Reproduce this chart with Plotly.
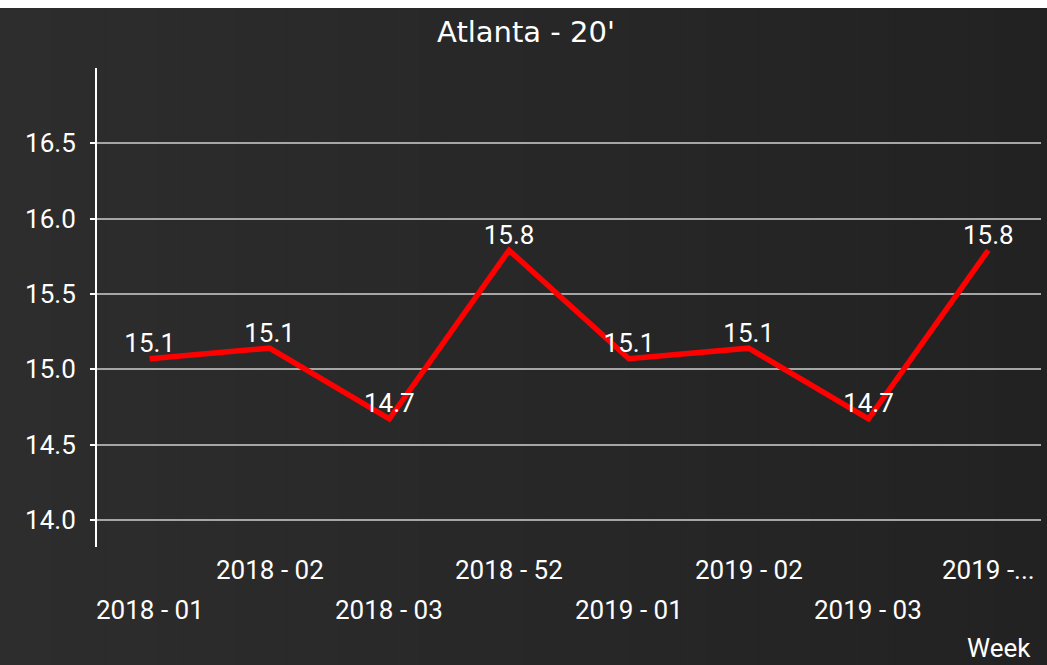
import numpy as np
import plotly.graph_objects as go

# 데이터
weeks = ["2018 - 01", "2018 - 02", "2018 - 03", "2018 - 52",
         "2019 - 01", "2019 - 02", "2019 - 03", "2019 -..."]
values = [15.07, 15.14, 14.67, 15.79, 15.07, 15.14, 14.67, 15.79]
value_labels = ["15.1", "15.1", "14.7", "15.8", "15.1", "15.1", "14.7", "15.8"]
y_ticks = [14.0, 14.5, 15.0, 15.5, 16.0, 16.5]

W, H = 1047, 665
L, R, T, B = 97, 1041, 68, 547   # plot area in pixels

def px_x(px):
    return (px - L) / (R - L)

def px_y(py):
    return (B - py) / (B - T)

fig = go.Figure()

fig.add_trace(go.Scatter(
    x=list(range(len(weeks))), y=values, mode='lines+text',
    text=value_labels, textposition='top center',
    textfont=dict(color='white', size=26, family='Roboto'),
    line=dict(color='#ff0000', width=5.5), showlegend=False, cliponaxis=False))

# 배경 그라데이션 (왼쪽 밝게 -> 오른쪽 어둡게)
shapes = []
n = 40
edges = np.linspace(0, W, n + 1)
for i in range(n):
    c = int(round(45 - 11 * i / (n - 1)))
    shapes.append(dict(type='rect', xref='paper', yref='paper', layer='below',
                       x0=px_x(edges[i]), x1=px_x(edges[i + 1] + 1),
                       y0=px_y(H + 2), y1=px_y(8),
                       fillcolor=f'rgb({c},{c},{c})', line=dict(width=0)))

# x축 라벨 (두 줄로 엇갈리게)
annotations = []
for i, w in enumerate(weeks):
    annotations.append(dict(x=i, y=px_y(610) if i % 2 == 0 else px_y(570),
                            xref='x', yref='paper', text=w, showarrow=False,
                            xanchor='center', yanchor='middle',
                            font=dict(color='white', size=26, family='Roboto')))
annotations.append(dict(x=px_x(1033), y=px_y(648), xref='paper', yref='paper',
                        text='Week', showarrow=False, xanchor='right', yanchor='middle',
                        font=dict(color='white', size=26, family='Roboto')))

fig.update_layout(
    title=dict(text="Atlanta - 20'", x=526 / W, xref='container', xanchor='center',
               y=1 - 32 / H, yref='container', yanchor='middle',
               font=dict(color='white', size=29, family='DejaVu Sans')),
    width=W, height=H,
    margin=dict(l=L, r=W - R, t=T, b=H - B, pad=0),
    paper_bgcolor='white',
    plot_bgcolor='rgba(0,0,0,0)',
    shapes=shapes,
    annotations=annotations,
    showlegend=False,
)

fig.update_xaxes(range=[-0.44, 7.44], showgrid=False, zeroline=False,
                 showticklabels=False, showline=False, ticks='')
fig.update_yaxes(range=[13.82, 17.0], tickvals=y_ticks, tickformat='.1f',
                 showgrid=True, gridcolor='#a6a6a6', gridwidth=2, zeroline=False,
                 showline=True, linecolor='white', linewidth=2,
                 ticks='outside', ticklen=5, tickcolor='white', tickwidth=2,
                 ticklabelstandoff=9,
                 tickfont=dict(color='white', size=26, family='Roboto'))

fig.write_html("out.html", config=dict(displayModeBar=False),
               post_script="document.body.style.margin = '0';")
